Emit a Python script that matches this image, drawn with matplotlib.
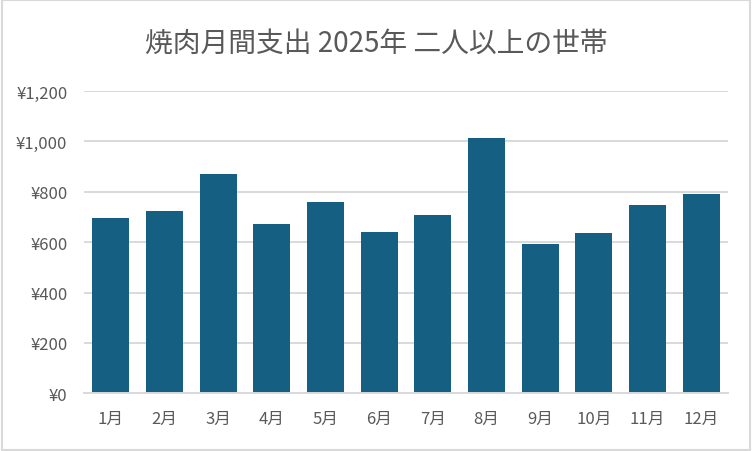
import matplotlib
matplotlib.use("Agg")
import matplotlib.pyplot as plt
from matplotlib.patches import Rectangle
from matplotlib.ticker import FuncFormatter

plt.rcParams['font.family'] = ['Noto Sans CJK JP', 'DejaVu Sans']

# 焼肉 月間支出 (円), 二人以上の世帯 2025
months = ['1月', '2月', '3月', '4月', '5月', '6月',
          '7月', '8月', '9月', '10月', '11月', '12月']
spending = [696, 723, 870, 670, 759, 641, 708, 1013, 594, 636, 747, 791]
yticks = [0, 200, 400, 600, 800, 1000, 1200]

bar_color = '#156082'
text_color = '#595959'
grid_color = '#D9D9D9'

fig = plt.figure(figsize=(7.52, 4.52), dpi=100)
ax = fig.add_axes([0.1117, 0.1277, 0.8563, 0.6688])

ax.bar(months, spending, width=0.69, color=bar_color, zorder=3)

ax.set_ylim(0, 1200)
ax.set_xlim(-0.5, len(months) - 0.5)
ax.set_yticks(yticks)
ax.yaxis.set_major_formatter(FuncFormatter(lambda v, p: f'¥{int(v):,}'))
ax.grid(axis='y', color=grid_color, linewidth=1.4, zorder=0)

for s in ['top', 'right', 'left']:
    ax.spines[s].set_visible(False)
ax.spines['bottom'].set_color(grid_color)
ax.spines['bottom'].set_linewidth(1.4)
ax.spines['bottom'].set_zorder(4)

ax.tick_params(axis='both', length=0, labelsize=12, labelcolor=text_color)
ax.tick_params(axis='y', pad=12)
ax.tick_params(axis='x', pad=12)

fig.text(0.5, 0.903, '焼肉月間支出 2025年 二人以上の世帯', ha='center', va='center',
         fontsize=20, color=text_color)

# chart border
fig.patches.append(Rectangle((0.002, 0.003), 0.996, 0.994, transform=fig.transFigure,
                             fill=False, edgecolor=grid_color, linewidth=1.5))

fig.savefig('out.png', dpi=100)
